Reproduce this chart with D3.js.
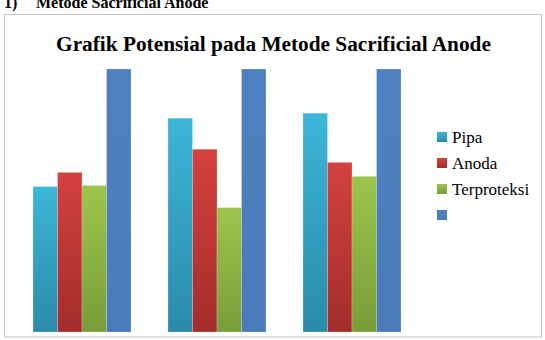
<!DOCTYPE html>
<html>
<head>
<meta charset="utf-8">
<script src="https://cdn.jsdelivr.net/npm/d3@7"></script>
<style>
  body { margin: 0; background: #fff; }
  svg { display: block; }
  text { font-family: "Liberation Serif", "Times New Roman", serif; }
</style>
</head>
<body>
<div id="chart"></div>
<script>
// data (blue series runs off the top of the plot)
const categories = ["1", "2", "3"];
const seriesNames = ["Pipa", "Anoda", "Terproteksi", ""];
const pipa = [553, 813, 832];
const anoda = [607, 695, 645];
const terproteksi = [557, 473, 592];
const blue = [1000, 1000, 1000];
const yMax = 1000;

const width = 545, height = 340;
const colors = [
  ["#3cb6d8", "#2a8ba9"],
  ["#d3423e", "#a22d2b"],
  ["#9ec54c", "#789d39"],
  ["#4f81c2", "#4a7ab8"]
];

const svg = d3.select("#chart").append("svg")
    .attr("width", width).attr("height", height);

const defs = svg.append("defs");
colors.forEach((c, i) => {
  const g = defs.append("linearGradient").attr("id", "grad" + i)
      .attr("x1", 0).attr("y1", 0).attr("x2", 0).attr("y2", 1);
  g.append("stop").attr("offset", "0%").attr("stop-color", c[0]);
  g.append("stop").attr("offset", "100%").attr("stop-color", c[1]);
});

// heading above the chart, partly cut off at the top
svg.append("text")
    .attr("x", 4).attr("y", 8)
    .style("font-weight", "bold").style("font-size", "16px")
    .text("1)");
svg.append("text")
    .attr("x", 36).attr("y", 8)
    .style("font-weight", "bold").style("font-size", "16px")
    .text("Metode Sacrificial Anode");

// chart frame
svg.append("rect")
    .attr("x", 4.5).attr("y", 14.5).attr("width", 537).attr("height", 322.5)
    .attr("fill", "#fff").attr("stroke", "#c4c4c4").attr("stroke-width", 1);

svg.append("text")
    .attr("x", 273.5).attr("y", 51)
    .attr("text-anchor", "middle")
    .style("font-weight", "bold").style("font-size", "21.3px")
    .text("Grafik Potensial pada Metode Sacrificial Anode");

const x0 = d3.scaleBand().domain(categories)
    .range([14.5, 419.5]).paddingInner(0.274).paddingOuter(0.137);
const x1 = d3.scaleBand().domain(d3.range(4)).range([0, x0.bandwidth()]);
const y = d3.scaleLinear().domain([0, yMax]).range([332, 69]);

const series = [pipa, anoda, terproteksi, blue];
const rows = categories.map((c, i) => ({cat: c, vals: series.map(s => s[i])}));

const groups = svg.selectAll("g.grp").data(rows).enter().append("g")
    .attr("class", "grp")
    .attr("transform", d => `translate(${x0(d.cat)},0)`);

groups.selectAll("rect").data(d => d.vals).enter().append("rect")
    .attr("x", (d, i) => x1(i))
    .attr("y", d => y(d))
    .attr("width", x1.bandwidth())
    .attr("height", d => y(0) - y(d))
    .attr("fill", (d, i) => `url(#grad${i})`)
    .attr("stroke", "rgba(255,255,255,0.35)").attr("stroke-width", 0.6);

// legend
const legend = svg.append("g").attr("transform", "translate(437,0)");
seriesNames.forEach((name, i) => {
  const ly = 132 + i * 26;
  legend.append("rect")
      .attr("x", 0).attr("y", ly).attr("width", 10).attr("height", 10)
      .attr("fill", `url(#grad${i})`);
  legend.append("text")
      .attr("x", 15).attr("y", ly + 11)
      .style("font-size", "17px")
      .text(name);
});
</script>
</body>
</html>
